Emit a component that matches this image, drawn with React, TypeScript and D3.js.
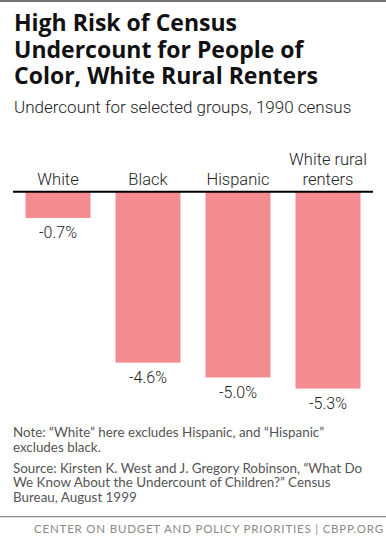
import React from "react";
import * as d3 from "d3";

const categories: string[][] = [["White"], ["Black"], ["Hispanic"], ["White rural", "renters"]];
const values: number[] = [-0.7, -4.6, -5.0, -5.3];
const valueLabels: string[] = ["-0.7%", "-4.6%", "-5.0%", "-5.3%"];
const titleLines: string[] = ["High Risk of Census", "Undercount for People of", "Color, White Rural Renters"];
const subtitle = "Undercount for selected groups, 1990 census";
const noteLines: string[] = [
  "Note: \u201cWhite\u201d here excludes Hispanic, and \u201cHispanic\u201d",
  "excludes black.",
];
const sourceLines: string[] = [
  "Source: Kirsten K. West and J. Gregory Robinson, \u201cWhat Do",
  "We Know About the Undercount of Children?\u201d Census",
  "Bureau, August 1999",
];
const footer = "CENTER ON BUDGET AND POLICY PRIORITIES | CBPP.ORG";

const W = 386;
const H = 543;
const BODY = "Lato, 'Open Sans', sans-serif";
const LIGHT = "Roboto, Lato, sans-serif";
const TITLE = "'Open Sans', Lato, sans-serif";

export default function App() {
  const x = d3
    .scaleBand<number>()
    .domain(values.map((_, i) => i))
    .range([13, 373])
    .paddingInner(0.2778)
    .paddingOuter(0.1389);
  const y = d3.scaleLinear().domain([0, -5.3]).range([192, 388.6]);

  return (
    <svg
      width={W}
      height={H}
      style={{ position: "absolute", left: 0, top: 0, background: "#fff" }}
      fontFamily={BODY}
    >
      <rect x={0} y={0} width={W} height={H} fill="#fff" />
      <rect x={0} y={0} width={W} height={2} fill="#727272" />
      <text x={14} y={31} fontFamily={TITLE} fontSize={23} fontWeight={700} fill="#111">
        {titleLines.map((t, i) => (
          <tspan key={t} x={14} dy={i === 0 ? 0 : 26.5}>
            {t}
          </tspan>
        ))}
      </text>
      <text x={14} y={113} fontFamily={LIGHT} fontSize={17} fontWeight={300} fill="#222">
        {subtitle}
      </text>
      {values.map((v, i) => {
        const bx = x(i)!;
        const cx = bx + x.bandwidth() / 2;
        const lines = categories[i];
        return (
          <g key={i}>
            <rect x={bx} y={y(0)} width={x.bandwidth()} height={y(v) - y(0)} fill="#f58c91" />
            <text
              x={cx}
              y={185 - (lines.length - 1) * 20}
              textAnchor="middle"
              fontFamily={LIGHT}
              fontSize={16.5}
              fontWeight={300}
              fill="#222"
            >
              {lines.map((l, j) => (
                <tspan key={l} x={cx} dy={j === 0 ? 0 : 20}>
                  {l}
                </tspan>
              ))}
            </text>
            <text
              x={cx}
              y={y(v) + 20.5}
              textAnchor="middle"
              fontFamily={LIGHT}
              fontSize={16}
              fontWeight={300}
              fill="#222"
            >
              {valueLabels[i]}
            </text>
          </g>
        );
      })}
      <line x1={13} x2={373} y1={191.7} y2={191.7} stroke="#000" strokeWidth={2} />
      <text x={13} y={437} fontSize={13.4} fill="#555">
        {noteLines.map((t, i) => (
          <tspan key={t} x={13} dy={i === 0 ? 0 : 14.5}>
            {t}
          </tspan>
        ))}
      </text>
      <text x={13} y={472.5} fontSize={13.4} fill="#555">
        {sourceLines.map((t, i) => (
          <tspan key={t} x={13} dy={i === 0 ? 0 : 14.5}>
            {t}
          </tspan>
        ))}
      </text>
      <rect x={0} y={516} width={W} height={1.3} fill="#8a8a8a" />
      <text x={384} y={533} textAnchor="end" fontSize={11.5} fill="#8a8a8a" letterSpacing={0.8}>
        {footer}
      </text>
    </svg>
  );
}
